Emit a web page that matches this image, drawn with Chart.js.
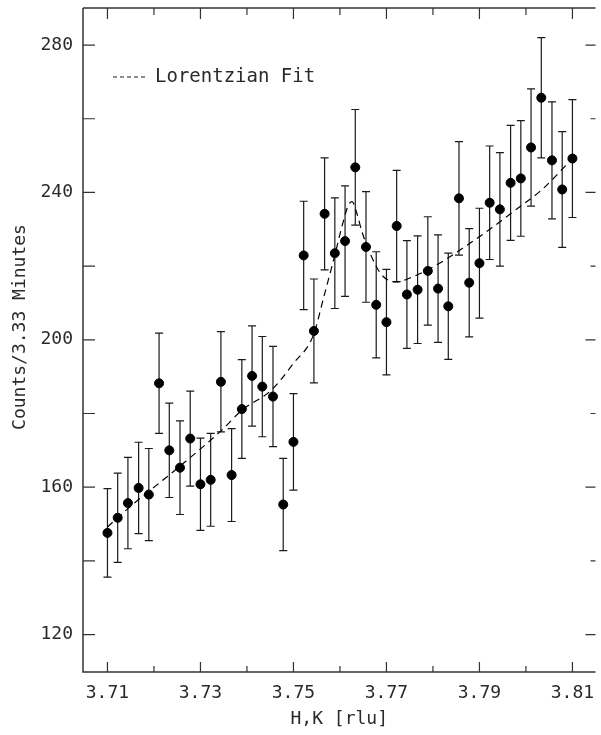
<!DOCTYPE html>
<html>
<head>
<meta charset="utf-8">
<script src="https://cdn.jsdelivr.net/npm/chart.js@4"></script>
<style>
  body { margin: 0; background: #fff; }
  #wrap { width: 601px; height: 735px; }
</style>
</head>
<body>
<div id="wrap"><canvas id="scanChart" width="601" height="735"></canvas></div>
<script>
// measured points (H,K scan)
const hk = [3.7100, 3.7122, 3.7144, 3.7167, 3.7189, 3.7211, 3.7233, 3.7256, 3.7278, 3.7300,
            3.7322, 3.7344, 3.7367, 3.7389, 3.7411, 3.7433, 3.7456, 3.7478, 3.7500, 3.7522,
            3.7544, 3.7567, 3.7589, 3.7611, 3.7633, 3.7656, 3.7678, 3.7700, 3.7722, 3.7744,
            3.7767, 3.7789, 3.7811, 3.7833, 3.7856, 3.7878, 3.7900, 3.7922, 3.7944, 3.7967,
            3.7989, 3.8011, 3.8033, 3.8056, 3.8078, 3.8100];
const counts = [147.6, 151.7, 155.7, 159.8, 158.0, 188.2, 170.0, 165.3, 173.2, 160.8,
                162.0, 188.6, 163.3, 181.2, 190.2, 187.3, 184.6, 155.3, 172.3, 222.9,
                202.4, 234.2, 223.5, 226.8, 246.8, 225.2, 209.5, 204.8, 230.9, 212.3,
                213.6, 218.7, 213.9, 209.1, 238.4, 215.5, 220.8, 237.2, 235.4, 242.6,
                243.8, 252.2, 265.7, 248.7, 240.8, 249.2];
const errors = [12.0, 12.1, 12.4, 12.4, 12.5, 13.6, 12.8, 12.7, 12.9, 12.5,
                12.6, 13.6, 12.6, 13.4, 13.6, 13.6, 13.6, 12.5, 13.1, 14.7,
                14.1, 15.2, 15.0, 15.0, 15.7, 15.0, 14.4, 14.3, 15.1, 14.6,
                14.6, 14.7, 14.6, 14.4, 15.4, 14.7, 14.9, 15.4, 15.4, 15.6,
                15.7, 15.9, 16.3, 15.9, 15.7, 16.0];

// Lorentzian fit
const fitX = [3.7100, 3.7144, 3.7254, 3.7346, 3.7389, 3.7452, 3.7500, 3.7543, 3.7566, 3.7587,
              3.7608, 3.7618, 3.7626, 3.7636, 3.7647, 3.7665, 3.7690, 3.7721, 3.7749, 3.7813,
              3.7863, 3.7920, 3.7977, 3.8033, 3.8100];
const fitY = [149.2, 154.2, 165.5, 175.5, 180.9, 186.3, 193.6, 201.3, 212.0, 222.0,
              232.5, 236.5, 237.5, 234.5, 229.5, 223.4, 217.6, 215.7, 216.7, 220.7,
              224.8, 229.8, 235.2, 240.6, 249.2];

const xMajor = [3.71, 3.73, 3.75, 3.77, 3.79, 3.81];
const xMinor = [3.72, 3.74, 3.76, 3.78, 3.80];
const xTickLabels = ['3.71', '3.73', '3.75', '3.77', '3.79', '3.81'];
const yMajor = [120, 160, 200, 240, 280];
const yMinor = [140, 180, 220, 260];
const yTickLabels = ['120', '160', '200', '240', '280'];

const FONT = '"DejaVu Sans Mono", monospace';
const INK = '#1a1a1a';
const TEXT = '#2a2a2a';

const framePlugin = {
    id: 'frame',
    beforeDatasetsDraw(chart) {
        const { ctx, scales: { x, y } } = chart;
        // error bars
        ctx.save();
        ctx.strokeStyle = INK;
        ctx.lineWidth = 1.2;
        hk.forEach((h, i) => {
            const px = x.getPixelForValue(h);
            const top = y.getPixelForValue(counts[i] + errors[i]);
            const bot = y.getPixelForValue(counts[i] - errors[i]);
            ctx.beginPath();
            ctx.moveTo(px, top); ctx.lineTo(px, bot);
            ctx.moveTo(px - 4, top); ctx.lineTo(px + 4, top);
            ctx.moveTo(px - 4, bot); ctx.lineTo(px + 4, bot);
            ctx.stroke();
        });
        ctx.restore();
    },
    afterDraw(chart) {
        const { ctx, chartArea: a, scales: { x, y } } = chart;
        ctx.save();
        ctx.strokeStyle = '#333';
        ctx.lineWidth = 1.5;
        ctx.beginPath();
        ctx.moveTo(a.left, a.top); ctx.lineTo(a.left, a.bottom); ctx.lineTo(a.right, a.bottom);
        ctx.moveTo(a.left, a.top); ctx.lineTo(a.right, a.top);
        ctx.stroke();

        ctx.lineWidth = 1.2;
        ctx.beginPath();
        const xTick = (v, lenB, lenT) => {
            const px = x.getPixelForValue(v);
            ctx.moveTo(px, a.bottom); ctx.lineTo(px, a.bottom - lenB);
            ctx.moveTo(px, a.top); ctx.lineTo(px, a.top + lenT);
        };
        xMajor.forEach(v => xTick(v, 10, 11));
        xMinor.forEach(v => xTick(v, 6, 7));
        const yTick = (v, lenR) => {
            const py = y.getPixelForValue(v);
            ctx.moveTo(a.left, py); ctx.lineTo(a.left + 12, py);
            ctx.moveTo(a.right, py); ctx.lineTo(a.right - lenR, py);
        };
        yMajor.forEach(v => yTick(v, 10));
        yMinor.forEach(v => yTick(v, 5));
        ctx.stroke();

        // tick labels
        ctx.fillStyle = TEXT;
        ctx.font = '18px ' + FONT;
        ctx.textAlign = 'center';
        ctx.textBaseline = 'middle';
        xMajor.forEach((v, i) => ctx.fillText(xTickLabels[i], x.getPixelForValue(v), a.bottom + 21));
        ctx.textAlign = 'right';
        yMajor.forEach((v, i) => ctx.fillText(yTickLabels[i], a.left - 10, y.getPixelForValue(v)));

        // axis titles
        ctx.textAlign = 'center';
        ctx.fillText('H,K [rlu]', (a.left + a.right) / 2, 719);
        ctx.save();
        ctx.translate(20, 327);
        ctx.rotate(-Math.PI / 2);
        ctx.fillText('Counts/3.33 Minutes', 0, 0);
        ctx.restore();

        // legend
        ctx.strokeStyle = INK;
        ctx.setLineDash([4, 3]);
        ctx.lineWidth = 1.1;
        ctx.beginPath();
        ctx.moveTo(113, 77); ctx.lineTo(148, 77);
        ctx.stroke();
        ctx.setLineDash([]);
        ctx.textAlign = 'left';
        ctx.font = '19px ' + FONT;
        ctx.fillText('Lorentzian Fit', 155, 77);
        ctx.restore();
    }
};

new Chart(document.getElementById('scanChart').getContext('2d'), {
    type: 'scatter',
    data: {
        datasets: [
            {
                label: 'Lorentzian Fit',
                type: 'line',
                data: fitX.map((v, i) => ({ x: v, y: fitY[i] })),
                borderColor: '#000',
                borderWidth: 1.2,
                borderDash: [7, 5],
                pointRadius: 0,
                fill: false,
                cubicInterpolationMode: 'monotone'
            },
            {
                label: 'data',
                data: hk.map((v, i) => ({ x: v, y: counts[i] })),
                backgroundColor: '#000',
                borderColor: '#000',
                pointRadius: 4.5,
                pointHoverRadius: 4.5
            }
        ]
    },
    options: {
        responsive: false,
        animation: false,
        devicePixelRatio: 1,
        layout: { padding: { top: 8, right: 0, left: 0, bottom: 0 } },
        plugins: { legend: { display: false }, tooltip: { enabled: false } },
        scales: {
            x: {
                type: 'linear', min: 3.70474, max: 3.81496,
                grid: { display: false }, border: { display: false },
                ticks: { display: false },
                afterFit: s => { s.height = 63; }
            },
            y: {
                min: 109.85, max: 290.05,
                grid: { display: false }, border: { display: false },
                ticks: { display: false },
                afterFit: s => { s.width = 83; }
            }
        }
    },
    plugins: [framePlugin]
});
</script>
</body>
</html>
